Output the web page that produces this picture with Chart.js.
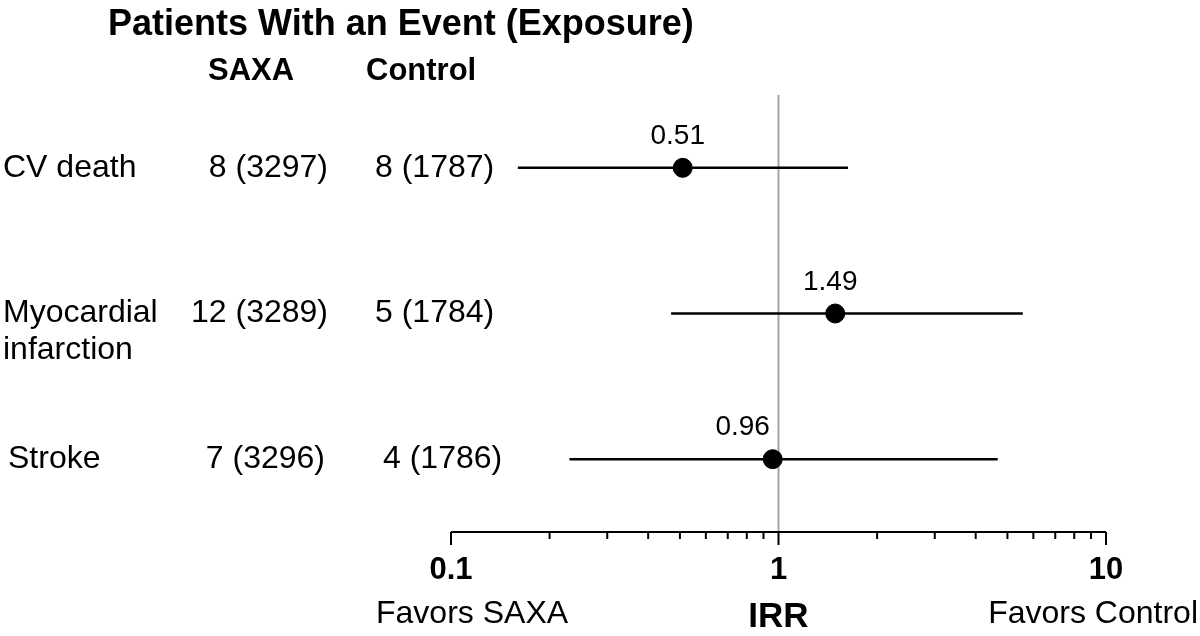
<!DOCTYPE html>
<html>
<head>
<meta charset="utf-8">
<script src="https://cdn.jsdelivr.net/npm/chart.js@4"></script>
<style>
  body { margin: 0; background: #fff; }
  #wrap { width: 1200px; height: 636px; }
</style>
</head>
<body>
<div id="wrap"><canvas id="forest" width="1200" height="636"></canvas></div>
<script>
// data
let outcomes = ['CV death', 'Myocardial\ninfarction', 'Stroke'];
let saxa = ['8 (3297)', '12 (3289)', '7 (3296)'];
let control = ['8 (1787)', '5 (1784)', '4 (1786)'];
let irr = [0.51, 1.49, 0.96];
let lower = [0.16, 0.47, 0.23];
let upper = [1.63, 5.57, 4.67];
let xTicks = [0.1, 1, 10];

const FONT = '"Liberation Sans", Arial, Helvetica, sans-serif';

// small nudges for the value labels, as in the original figure
let labelShift = [-5, -5, -30];
let controlX = [375, 375, 383];

function rowY(chart, i) {
    return chart.scales.y.getPixelForValue(i + 0.5);
}

const forestPlugin = {
    id: 'forest',
    beforeDatasetsDraw(chart) {
        const ctx = chart.ctx, area = chart.chartArea, x = chart.scales.x;
        const px = x.getPixelForValue(1);
        ctx.save();
        ctx.strokeStyle = '#a6a6a6';
        ctx.lineWidth = 2;
        ctx.beginPath();
        ctx.moveTo(px, area.top);
        ctx.lineTo(px, area.bottom);
        ctx.stroke();
        ctx.restore();
    },
    afterDraw(chart) {
        const ctx = chart.ctx, area = chart.chartArea, x = chart.scales.x;
        ctx.save();
        ctx.fillStyle = '#000';

        // headers
        ctx.textBaseline = 'alphabetic';
        ctx.textAlign = 'left';
        ctx.font = 'bold 36px ' + FONT;
        ctx.fillText('Patients With an Event (Exposure)', 108, 35);
        ctx.font = 'bold 31px ' + FONT;
        ctx.fillText('SAXA', 208, 80);
        ctx.fillText('Control', 366, 80);

        // rows
        ctx.textBaseline = 'middle';
        ctx.font = '32px ' + FONT;
        outcomes.forEach(function (name, i) {
            const y = rowY(chart, i);
            const lines = name.split('\n');
            ctx.textAlign = 'left';
            lines.forEach(function (ln, k) {
                ctx.fillText(ln, i == 2 ? 8 : 3, y + k * 37);
            });
            ctx.textAlign = 'right';
            ctx.fillText(saxa[i], i == 2 ? 325 : 328, y);
            ctx.textAlign = 'left';
            ctx.fillText(control[i], controlX[i], y);
        });

        // value labels above the points
        ctx.font = '28px ' + FONT;
        ctx.textAlign = 'center';
        ctx.textBaseline = 'alphabetic';
        irr.forEach(function (v, i) {
            ctx.fillText(v.toFixed(2), x.getPixelForValue(v) + labelShift[i], rowY(chart, i) - 24);
        });

        // x axis
        ctx.strokeStyle = '#000';
        ctx.lineWidth = 2;
        ctx.beginPath();
        ctx.moveTo(area.left, area.bottom);
        ctx.lineTo(area.right, area.bottom);
        for (let d = 0.1; d < 10; d *= 10) {
            for (let m = 1; m <= 10; m++) {
                const v = d * m;
                if (v > 10.0001) break;
                const px = x.getPixelForValue(v);
                const major = (m == 1 || m == 10);
                ctx.moveTo(px, area.bottom);
                ctx.lineTo(px, area.bottom + (major ? 13 : 7));
            }
        }
        ctx.stroke();

        ctx.font = 'bold 31px ' + FONT;
        ctx.textAlign = 'center';
        xTicks.forEach(function (t) {
            ctx.fillText(String(t), x.getPixelForValue(t), 579);
        });

        ctx.font = '32px ' + FONT;
        ctx.textAlign = 'left';
        ctx.fillText('Favors SAXA', 376, 623);
        ctx.textAlign = 'right';
        ctx.fillText('Favors Control', 1198, 623);
        ctx.textAlign = 'center';
        ctx.font = 'bold 35px ' + FONT;
        ctx.fillText('IRR', x.getPixelForValue(1), 627);
        ctx.restore();
    }
};

function buildDatasets() {
    let sets = [];
    irr.forEach(function (v, i) {
        sets.push({
            type: 'line',
            data: [{ x: lower[i], y: i + 0.5 }, { x: upper[i], y: i + 0.5 }],
            borderColor: '#000',
            borderWidth: 2.5,
            pointRadius: 0,
            fill: false
        });
    });
    sets.push({
        type: 'scatter',
        data: irr.map(function (v, i) { return { x: v, y: i + 0.5 }; }),
        backgroundColor: '#000',
        borderColor: '#000',
        pointRadius: 9.5
    });
    return sets;
}

let chart = new Chart(document.getElementById('forest'), {
    type: 'scatter',
    data: { datasets: buildDatasets() },
    options: {
        responsive: false,
        animation: false,
        layout: { padding: { left: 451, right: 94, top: 95, bottom: 104 } },
        scales: {
            x: { type: 'logarithmic', min: 0.1, max: 10, display: false },
            y: { type: 'linear', min: 0, max: 3, reverse: true, display: false }
        },
        plugins: { legend: { display: false }, tooltip: { enabled: false } }
    },
    plugins: [forestPlugin]
});
</script>
</body>
</html>
